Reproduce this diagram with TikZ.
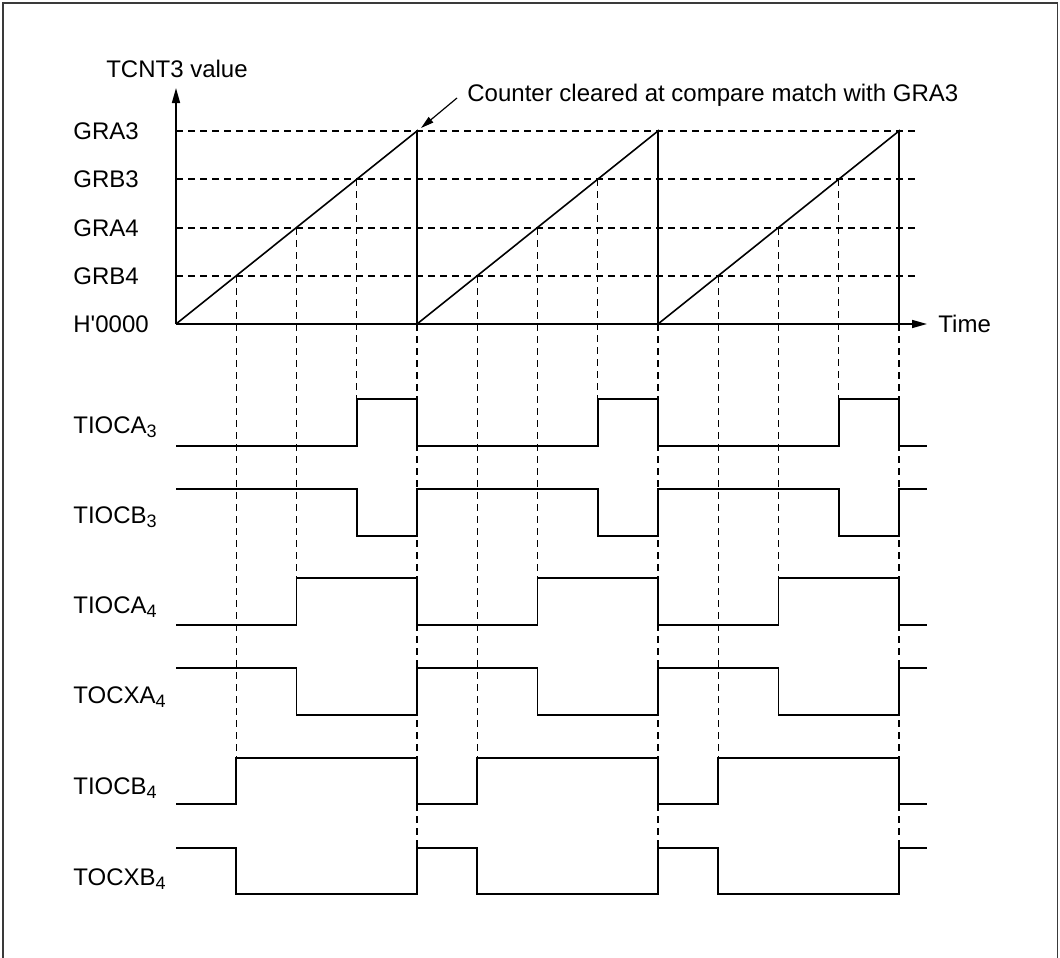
\documentclass[tikz,border=0pt]{standalone}
\usepackage{fontspec}
\setmainfont{Liberation Sans}
\usepackage{xcolor}
\definecolor{cLine}{HTML}{000000}
\definecolor{cFrame}{HTML}{3A3A3A}
\usetikzlibrary{arrows.meta}
\tikzset{
  wave/.style={line width=0.8pt,draw=cLine,line join=miter},
  grid-dash/.style={line width=0.55pt,draw=cLine,dash pattern=on 3.5pt off 2.5pt},
  axis-arrow/.style={-{Triangle[length=7.5pt,width=4pt]},line width=0.8pt,draw=cLine},
  note-arrow/.style={-{Triangle[length=6.5pt,width=3.5pt]},line width=0.6pt,draw=cLine},
  sig-label/.style={anchor=west,inner sep=0pt,font=\fontsize{12}{14}\selectfont},
  frame/.style={line width=0.9pt,draw=cFrame},
}
% time origin and counter period (px)
\newcommand{\xorig}{176}
\newcommand{\tper}{241}
\newcommand{\sbs}[1]{\raisebox{-2.2pt}{\fontsize{9}{10}\selectfont #1}}
% #1 start level, #2 other level, #3 fraction of period where it toggles
\newcommand{\waveform}[3]{%
  \draw[wave] (\xorig,#1)
    \foreach \k in {0,1,2} {
      -- ({\xorig+(\k+#3)*\tper},#1) -- ({\xorig+(\k+#3)*\tper},#2)
      -- ({\xorig+(\k+1)*\tper},#2) -- ({\xorig+(\k+1)*\tper},#1)
    } -- (927,#1);}

\begin{document}
\begin{tikzpicture}[x=0.5pt,y=-0.5pt]
  \useasboundingbox (0,0) rectangle (1060,958);
  \draw[frame] (3,958) -- (3,3) -- (1057.5,3) -- (1057.5,958);

  % axes
  \coordinate (origin) at (\xorig,324);
  \coordinate (ytip) at (\xorig,88);
  \coordinate (xtip) at (927,324);
  \draw[axis-arrow] (origin) -- (ytip);
  \draw[axis-arrow] (origin) -- (xtip);
  \node[sig-label,anchor=center] (yname) at (177,69) {TCNT3 value};
  \node[sig-label] (xname) at (938,324) {Time};

  % compare levels
  \foreach \lvl/\y in {GRA3/131,GRB3/179,GRA4/228,GRB4/276} {
    \draw[grid-dash] (\xorig,\y) -- (918,\y);
    \node[sig-label] (lbl-\lvl) at (73,\y) {\lvl};
  }
  \node[sig-label] (lbl-zero) at (73,324) {H\textquotesingle 0000};

  % counter
  \draw[wave] (origin) -- (417,131) -- (417,324) -- (658,131) -- (658,324)
    -- (899,131) -- (899,324);
  \coordinate (clear) at (421,128);
  \node[sig-label] (note) at (467,95) {Counter cleared at compare match with GRA3};
  \draw[note-arrow] ([xshift=-5pt,yshift=-1.5pt]note.west) -- (clear);

  % match times down to the outputs
  \foreach \k in {0,1,2} {
    \draw[grid-dash] ({\xorig+(\k+0.25)*\tper},276) -- ({\xorig+(\k+0.25)*\tper},758);
    \draw[grid-dash] ({\xorig+(\k+0.5)*\tper},228) -- ({\xorig+(\k+0.5)*\tper},578);
    \draw[grid-dash] ({\xorig+(\k+0.75)*\tper},179) -- ({\xorig+(\k+0.75)*\tper},399);
    \draw[grid-dash] ({\xorig+(\k+1)*\tper},324) -- ({\xorig+(\k+1)*\tper},848);
  }

  % output waveforms
  \waveform{446}{399}{0.75}
  \waveform{489}{536}{0.75}
  \waveform{625}{578}{0.5}
  \waveform{668}{715}{0.5}
  \waveform{804}{758}{0.25}
  \waveform{848}{894}{0.25}
  \node[sig-label,anchor=base west] (sig-a3) at (73,433) {TIOCA\sbs{3}};
  \node[sig-label,anchor=base west] (sig-b3) at (73,523) {TIOCB\sbs{3}};
  \node[sig-label,anchor=base west] (sig-a4) at (73,613) {TIOCA\sbs{4}};
  \node[sig-label,anchor=base west] (sig-xa4) at (73,703) {TOCXA\sbs{4}};
  \node[sig-label,anchor=base west] (sig-b4) at (73,794) {TIOCB\sbs{4}};
  \node[sig-label,anchor=base west] (sig-xb4) at (73,885) {TOCXB\sbs{4}};
\end{tikzpicture}
\end{document}
